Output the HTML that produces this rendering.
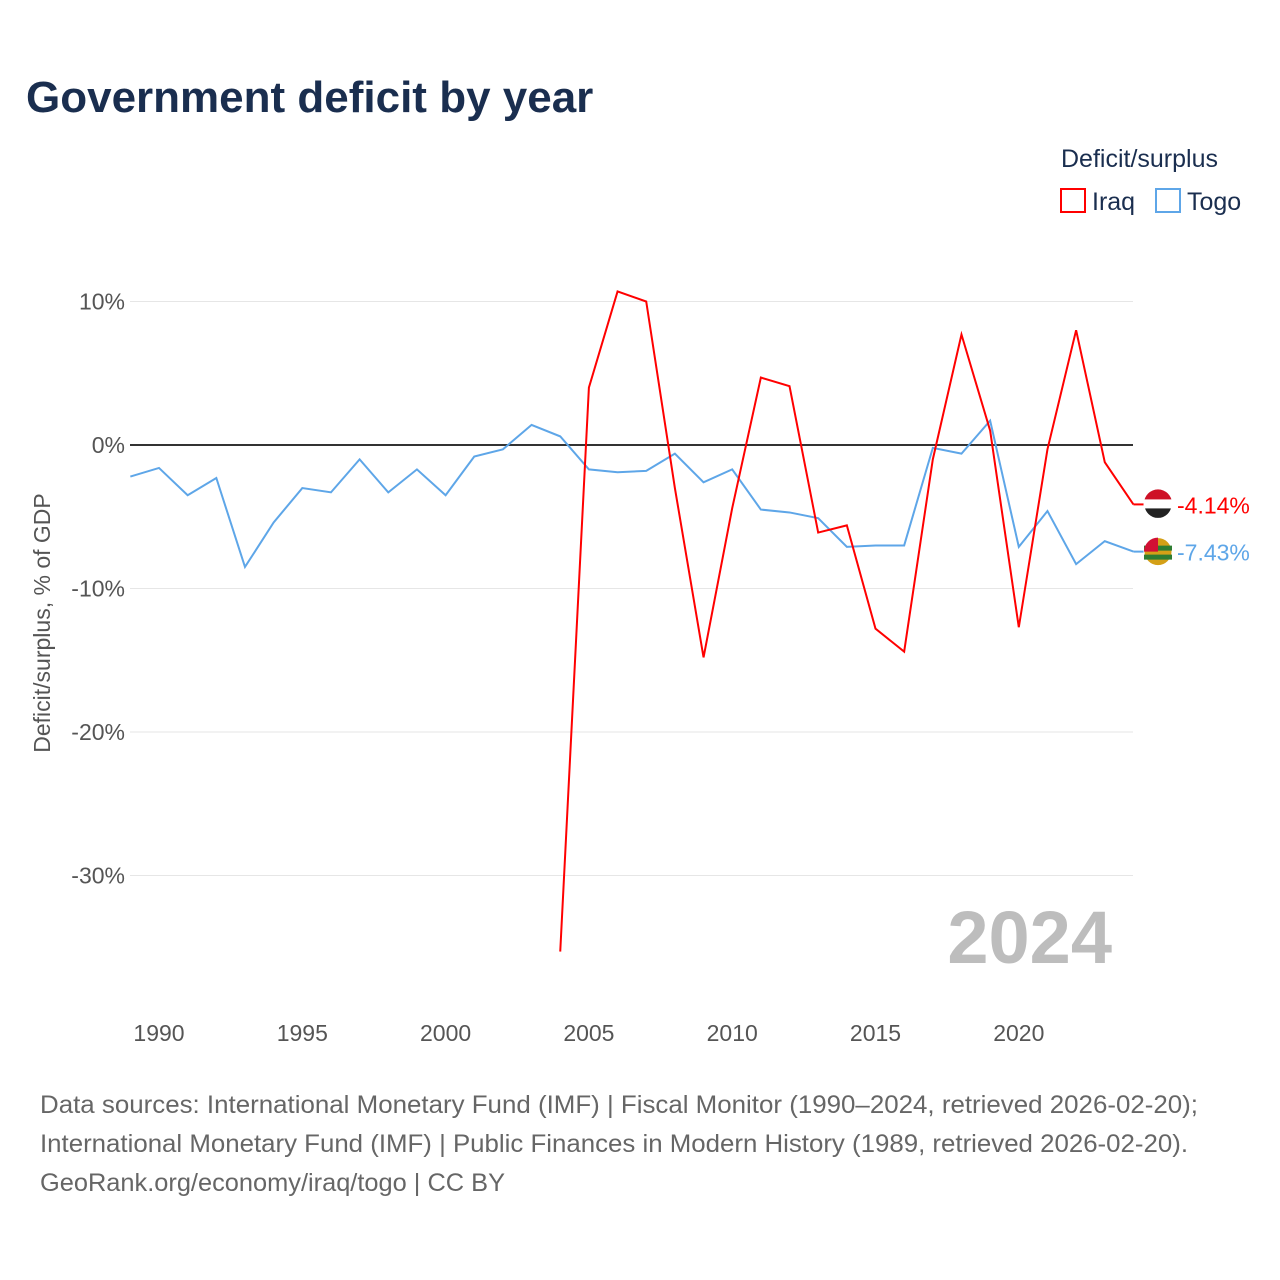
<!DOCTYPE html>
<html><head><meta charset="utf-8">
<style>
body{margin:0;background:#fff;font-family:"Liberation Sans",sans-serif;}
#wrap{position:relative;width:1280px;height:1280px;overflow:hidden;}
</style></head>
<body>
<div id="wrap">
<svg id="chart" width="1280" height="1280">
<text x="26" y="112" font-size="44" font-weight="bold" fill="#1a2e4f">Government deficit by year</text>
<text x="1061" y="167" font-size="25" fill="#1a2e4f">Deficit/surplus</text>
<rect x="1061" y="189" width="24" height="23" fill="none" stroke="#ff0000" stroke-width="2"/>
<text x="1092" y="210" font-size="25" fill="#1a2e4f">Iraq</text>
<rect x="1156" y="189" width="24" height="23" fill="none" stroke="#5ea6e8" stroke-width="2"/>
<text x="1187" y="210" font-size="25" fill="#1a2e4f">Togo</text>
<text transform="translate(50,623) rotate(-90)" text-anchor="middle" font-size="23" fill="#555">Deficit/surplus, % of GDP</text>
<g id="grid"></g><g id="lines"></g>
<text x="1112" y="963" text-anchor="end" font-size="74" font-weight="bold" fill="#bdbdbd">2024</text>
<text x="40" y="1113" font-size="25" fill="#666" textLength="1158" lengthAdjust="spacingAndGlyphs">Data sources: International Monetary Fund (IMF) | Fiscal Monitor (1990–2024, retrieved 2026-02-20);</text>
<text x="40" y="1152" font-size="25" fill="#666" textLength="1148" lengthAdjust="spacingAndGlyphs">International Monetary Fund (IMF) | Public Finances in Modern History (1989, retrieved 2026-02-20).</text>
<text x="40" y="1191" font-size="25" fill="#666" textLength="465" lengthAdjust="spacingAndGlyphs">GeoRank.org/economy/iraq/togo | CC BY</text>
</svg>
</div>
<script>
const yTicks=[10,0,-10,-20,-30];
const xTicks=[1990,1995,2000,2005,2010,2015,2020];
const togoYears=[1989,1990,1991,1992,1993,1994,1995,1996,1997,1998,1999,2000,2001,2002,2003,2004,2005,2006,2007,2008,2009,2010,2011,2012,2013,2014,2015,2016,2017,2018,2019,2020,2021,2022,2023,2024];
const togoValues=[-2.2,-1.6,-3.5,-2.3,-8.5,-5.4,-3.0,-3.3,-1.0,-3.3,-1.7,-3.5,-0.8,-0.3,1.4,0.6,-1.7,-1.9,-1.8,-0.6,-2.6,-1.7,-4.5,-4.7,-5.1,-7.1,-7.0,-7.0,-0.2,-0.6,1.7,-7.1,-4.6,-8.3,-6.7,-7.43];
const iraqYears=[2004,2005,2006,2007,2008,2009,2010,2011,2012,2013,2014,2015,2016,2017,2018,2019,2020,2021,2022,2023,2024];
const iraqValues=[-35.3,4.0,10.7,10.0,-3.0,-14.8,-4.4,4.7,4.1,-6.1,-5.6,-12.8,-14.4,-1.0,7.7,1.0,-12.7,-0.3,8.0,-1.2,-4.14];
const NS="http://www.w3.org/2000/svg";
const X=y=>159+(y-1990)*28.66;
const Y=v=>445-v*14.35;
function mk(tag,attrs,parent,txt){const e=document.createElementNS(NS,tag);for(const k in attrs)e.setAttribute(k,attrs[k]);if(txt!==undefined)e.textContent=txt;parent.appendChild(e);return e;}
const grid=document.getElementById('grid'),lines=document.getElementById('lines');
yTicks.forEach(t=>{
  const l=mk('line',{x1:130,x2:1133,y1:Y(t),y2:Y(t),stroke:t===0?'#333':'#e6e6e6','stroke-width':t===0?2:1},grid);
  
  
  const tx=mk('text',{x:125,y:Y(t)+8,'text-anchor':'end','font-size':23,fill:'#555'},grid,t+'%');
  
  
});
xTicks.forEach(t=>{
  const tx=mk('text',{x:X(t),y:1041,'text-anchor':'middle','font-size':23,fill:'#555'},grid,t);
  
  
});
function series(years,vals,color,name){
  const p=mk('polyline',{points:years.map((y,i)=>X(y)+','+Y(vals[i])).join(' '),fill:'none',stroke:color,'stroke-width':2},lines);
  
  
  const last=vals[vals.length-1],ly=Y(last);
  mk('line',{x1:X(2024),x2:1145,y1:ly,y2:ly,stroke:color,'stroke-width':2},lines);
  const f=mk('circle',{cx:1158,cy:ly,r:14,fill:name==='iraq'?'#222':'#d4a017',stroke:'#fff','stroke-width':1},lines);
  
  
  if(name==='iraq'){mk('path',{d:`M1144 ${ly-1} A14 14 0 0 1 1172 ${ly-1} Z`,fill:'#ce1126'},lines);mk('rect',{x:1144,y:ly-5,width:28,height:9,fill:'#fff'},lines);}
  else{mk('rect',{x:1144,y:ly-6,width:28,height:5,fill:'#2e7d32'},lines);mk('rect',{x:1144,y:ly+3,width:28,height:5,fill:'#2e7d32'},lines);mk('path',{d:`M1144 ${ly} A14 14 0 0 1 1158 ${ly-14} L1158 ${ly} Z`,fill:'#d21034'},lines);}
  const t=mk('text',{x:1177,y:ly+9,'font-size':23,fill:color},lines,last.toFixed(2)+'%');
  
  
}
series(togoYears,togoValues,'#5ea6e8','togo');
series(iraqYears,iraqValues,'#ff0000','iraq');
</script>
</body></html>
